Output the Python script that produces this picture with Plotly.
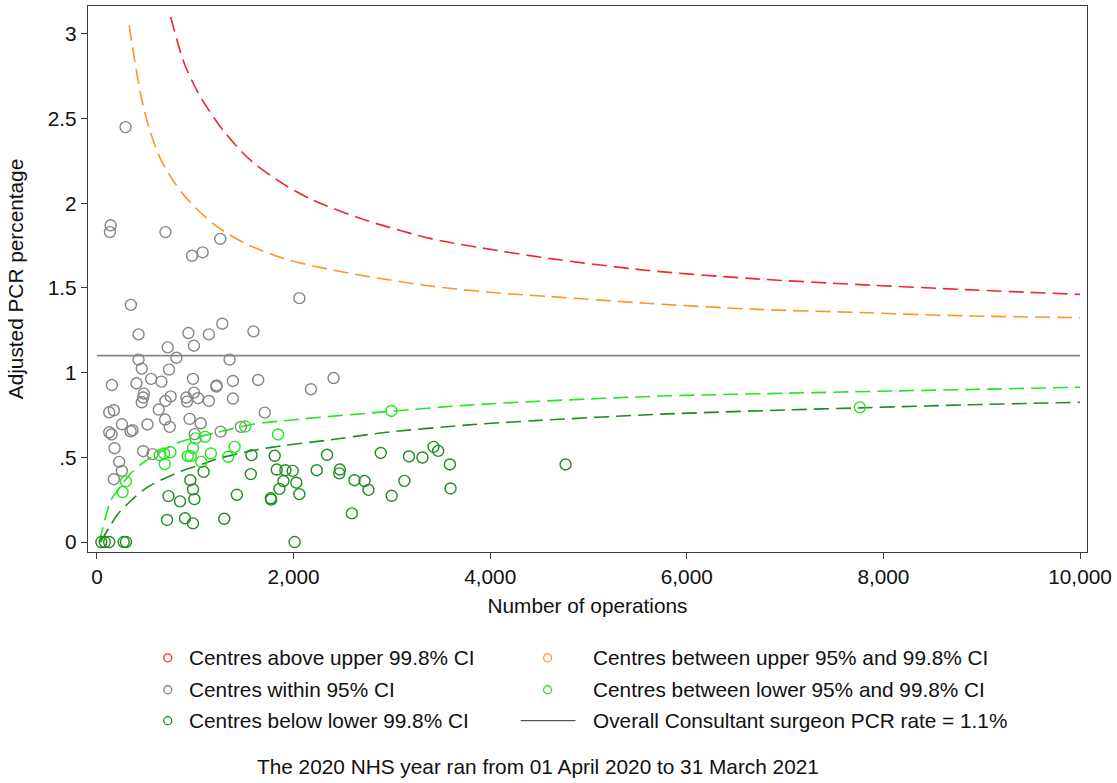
import plotly.graph_objects as go

# ---- centre-level results (number of operations, adjusted PCR %) ----
within95_ops = [291, 139, 132, 697, 967, 1075, 1254, 2059, 345, 423, 930, 1139, 1275, 1592,
                720, 987, 423, 808, 1349, 456, 733, 152, 402, 551, 656, 977, 1217, 1214,
                1383, 1640, 2177, 2407, 477, 470, 456, 750, 987, 909, 916, 1028, 1139, 1383,
                697, 125, 172, 629, 254, 342, 362, 514, 693, 740, 943, 1055, 1258, 1707,
                1464, 125, 149, 179, 470, 565, 226, 254, 172, 995]
within95_pcr = [2.45, 1.87, 1.83, 1.83, 1.69, 1.71, 1.79, 1.44, 1.40, 1.226, 1.234, 1.226, 1.289, 1.244,
                1.149, 1.159, 1.077, 1.088, 1.077, 1.024, 1.018, 0.927, 0.937, 0.963, 0.947, 0.963, 0.925, 0.918,
                0.951, 0.957, 0.902, 0.968, 0.876, 0.853, 0.825, 0.860, 0.882, 0.853, 0.829, 0.849, 0.833, 0.847,
                0.833, 0.766, 0.778, 0.782, 0.695, 0.654, 0.660, 0.694, 0.723, 0.680, 0.727, 0.701, 0.652, 0.764,
                0.680, 0.648, 0.635, 0.554, 0.536, 0.519, 0.473, 0.420, 0.371, 0.637]

lower95_ops = [294, 261, 639, 683, 747, 690, 923, 953, 977, 1004, 1100, 1062, 1159, 1335,
               1400, 1508, 1842, 2995, 7760]
lower95_pcr = [0.358, 0.295, 0.513, 0.523, 0.530, 0.460, 0.507, 0.507, 0.555, 0.612, 0.621, 0.473, 0.523, 0.503,
               0.562, 0.682, 0.635, 0.774, 0.795]

lower998_ops = [45, 80, 125, 272, 295, 2011, 1085, 950, 977, 991, 727, 845, 713, 896, 977, 1295,
                1423, 1572, 1565, 1808, 1768, 1772, 1829, 1917, 1991, 1897, 1856, 2028, 2059, 2236,
                2341, 2471, 2465, 2620, 2722, 2762, 2593, 2887, 2998, 3127, 3174, 3311, 3424, 3471,
                3590, 3597, 4767]
lower998_pcr = [0, 0, 0, 0, 0, 0, 0.414, 0.365, 0.311, 0.253, 0.271, 0.240, 0.130, 0.140, 0.110, 0.137,
                0.279, 0.513, 0.401, 0.509, 0.258, 0.250, 0.428, 0.424, 0.420, 0.360, 0.314, 0.350, 0.283, 0.424,
                0.515, 0.428, 0.405, 0.365, 0.360, 0.308, 0.169, 0.526, 0.273, 0.361, 0.505, 0.499, 0.562, 0.538,
                0.458, 0.316, 0.458]

# ---- funnel control limits ----
upper998_x = [750, 892, 1061, 1298, 1569, 1907, 2194, 2735, 3411, 4087, 4594, 5578, 6670, 7760, 8845, 10000]
upper998_y = [3.10, 2.82, 2.62, 2.42, 2.25, 2.11, 2.02, 1.90, 1.79, 1.72, 1.675, 1.605, 1.555, 1.52, 1.49, 1.462]

upper95_x = [328, 385, 453, 538, 656, 791, 926, 1180, 1518, 1924, 2363, 2735, 3411, 4087, 4594,
             5578, 6670, 7760, 8845, 10000]
upper95_y = [3.05, 2.84, 2.62, 2.43, 2.25, 2.12, 2.02, 1.88, 1.76, 1.67, 1.61, 1.57, 1.51, 1.47, 1.45,
             1.41, 1.375, 1.355, 1.335, 1.325]

lower95_x = [25, 145, 246, 335, 450, 551, 842, 1210, 1585, 2059, 2989, 3749, 4493, 5743, 6307,
             7028, 8120, 9000, 10000]
lower95_y = [0.0, 0.25, 0.33, 0.40, 0.46, 0.50, 0.59, 0.645, 0.695, 0.725, 0.772, 0.807, 0.831, 0.862, 0.870,
             0.879, 0.892, 0.902, 0.914]

lower998_x = [35, 130, 213, 348, 504, 842, 1075, 1247, 1585, 1924, 2330, 2904, 3749, 4493, 5743,
              7028, 7760, 8845, 10000]
lower998_y = [0.0, 0.09, 0.165, 0.245, 0.32, 0.415, 0.46, 0.495, 0.54, 0.572, 0.60, 0.645, 0.69, 0.718, 0.755,
              0.78, 0.792, 0.81, 0.825]

overall_rate = 1.1
x_span = [0, 10000]

x_ticks = [0, 2000, 4000, 6000, 8000, 10000]
x_tick_labels = ["0", "2,000", "4,000", "6,000", "8,000", "10,000"]
y_ticks = [0, 0.5, 1, 1.5, 2, 2.5, 3]
y_tick_labels = ["0", ".5", "1", "1.5", "2", "2.5", "3"]

RED = "#f22630"
ORANGE = "#ff9428"
GREY = "#858585"
LIGHT_GREEN = "#22e622"
DARK_GREEN = "#1f8c1f"
AXIS = "#3c3c3c"
FONT = "Liberation Sans, Arial, sans-serif"
TXT = 20.8

fig = go.Figure()

dash = "15px,7px"
for xs, ys, col in [(upper998_x, upper998_y, RED), (upper95_x, upper95_y, ORANGE),
                    (lower95_x, lower95_y, LIGHT_GREEN), (lower998_x, lower998_y, DARK_GREEN)]:
    fig.add_trace(go.Scatter(x=xs, y=ys, mode="lines", showlegend=False, hoverinfo="skip",
                             line=dict(color=col, width=1.6, dash=dash, shape="spline", smoothing=0.8)))

fig.add_trace(go.Scatter(x=x_span, y=[overall_rate, overall_rate], mode="lines", showlegend=False,
                         line=dict(color=GREY, width=1.8)))

for xs, ys, col in [(within95_ops, within95_pcr, GREY), (lower95_ops, lower95_pcr, LIGHT_GREEN),
                    (lower998_ops, lower998_pcr, DARK_GREEN)]:
    fig.add_trace(go.Scatter(x=xs, y=ys, mode="markers", showlegend=False,
                             marker=dict(symbol="circle-open", size=11, color=col, line=dict(width=1.4, color=col))))

# page geometry helpers (plot area spans 88..1090 px horizontally, 5..552 px vertically)
L, R, T, B = 88, 1090, 5, 552
def px_x(px):
    return (px - L) / (R - L)
def px_y(py):
    return (B - py) / (B - T)

legend_rows = [658, 690, 721]
legend_items = [
    (168, 187, legend_rows[0], RED, "Centres above upper 99.8% CI", "circle"),
    (549, 593, legend_rows[0], ORANGE, "Centres between upper 95% and 99.8% CI", "circle"),
    (168, 187, legend_rows[1], GREY, "Centres within 95% CI", "circle"),
    (549, 593, legend_rows[1], LIGHT_GREEN, "Centres between lower 95% and 99.8% CI", "circle"),
    (168, 187, legend_rows[2], DARK_GREEN, "Centres below lower 99.8% CI", "circle"),
    (549, 593, legend_rows[2], "#555555", "Overall Consultant surgeon PCR rate = 1.1%", "line"),
]

shapes = []
annotations = []
for kx, tx, ry, col, label, kind in legend_items:
    if kind == "circle":
        shapes.append(dict(type="circle", xref="paper", yref="paper", xsizemode="pixel", ysizemode="pixel",
                           xanchor=px_x(kx), yanchor=px_y(ry), x0=-4, x1=4, y0=-4, y1=4,
                           line=dict(color=col, width=1.3)))
    else:
        shapes.append(dict(type="line", xref="paper", yref="paper", x0=px_x(522), x1=px_x(577),
                           y0=px_y(ry), y1=px_y(ry), line=dict(color=col, width=1.3)))
    annotations.append(dict(text=label, xref="paper", yref="paper", x=px_x(tx), y=px_y(ry),
                            xanchor="left", yanchor="middle", showarrow=False,
                            font=dict(size=TXT, color="#111111", family=FONT)))

annotations.append(dict(text="The 2020 NHS year ran from 01 April 2020 to 31 March 2021",
                        xref="paper", yref="paper", x=px_x(539), y=px_y(767), xanchor="center",
                        yanchor="middle", showarrow=False, font=dict(size=TXT, color="#111111", family=FONT)))

fig.update_layout(
    width=1117, height=783, autosize=False,
    margin=dict(l=L, r=1117 - R, t=T, b=783 - B),
    plot_bgcolor="white", paper_bgcolor="white",
    font=dict(family=FONT, size=TXT, color="#111111"),
    showlegend=False,
    shapes=shapes, annotations=annotations,
    xaxis=dict(range=[-91, 10071], tickvals=x_ticks, ticktext=x_tick_labels,
               ticks="outside", ticklen=6, tickwidth=1.3, tickcolor=AXIS,
               showline=True, linecolor=AXIS, linewidth=1.3, mirror=True,
               showgrid=False, zeroline=False,
               title=dict(text="Number of operations", font=dict(size=TXT), standoff=11)),
    yaxis=dict(range=[-0.059, 3.165], tickvals=y_ticks, ticktext=y_tick_labels,
               ticks="outside", ticklen=6, tickwidth=1.3, tickcolor=AXIS,
               showline=True, linecolor=AXIS, linewidth=1.3, mirror=True,
               showgrid=False, zeroline=False,
               title=dict(text="Adjusted PCR percentage", font=dict(size=TXT), standoff=18)),
)

fig.write_html("out.html")
